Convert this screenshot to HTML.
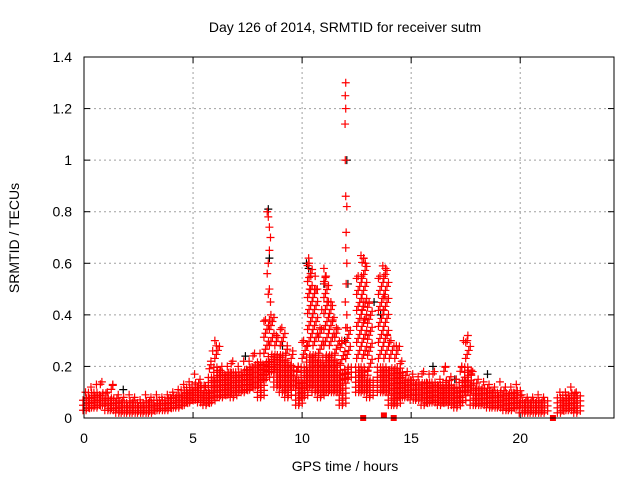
<!DOCTYPE html>
<html><head><meta charset="utf-8"><style>
body{margin:0;background:#fff}
svg{display:block;font-family:"Liberation Sans",sans-serif}
</style></head><body>
<svg id="chart" width="640" height="480" xmlns="http://www.w3.org/2000/svg">
<rect width="640" height="480" fill="#fff"/>
<g id="grid"></g>
<g id="ticks"></g>
<g id="black"></g>
<g id="red"></g>
<rect x="84" y="57" width="530" height="361" fill="none" stroke="#000" stroke-width="1"/>
<text x="345" y="32" font-size="14" text-anchor="middle">Day 126 of 2014, SRMTID for receiver sutm</text>
<text x="345" y="471" font-size="14" text-anchor="middle">GPS time / hours</text>
<text x="19" y="238" font-size="14" text-anchor="middle" transform="rotate(-90 19 238)">SRMTID / TECUs</text>
</svg>
<script>
const xTicks=[0,5,10,15,20];
const yTicks=[0,0.2,0.4,0.6,0.8,1,1.2,1.4];
const yTickLabels=["0","0.2","0.4","0.6","0.8","1","1.2","1.4"];
const bandTimes=[0,0.25,0.5,0.75,1,1.25,1.5,1.75,2,2.25,2.5,2.75,3,3.25,3.5,3.75,4,4.25,4.5,4.75,5,5.25,5.5,5.75,6,6.25,6.5,6.75,7,7.25,7.5,7.75,8,8.25,8.5,8.75,9,9.25,9.5,9.75,10,10.25,10.5,10.75,11,11.25,11.5,11.75,12,12.25,12.5,12.75,13,13.25,13.5,13.75,14,14.25,14.5,14.75,15,15.25,15.5,15.75,16,16.25,16.5,16.75,17,17.25,17.5,17.75,18,18.25,18.5,18.75,19,19.25,19.5,19.75,20,20.25,20.5,20.75,21,21.25,21.5,21.75,22,22.25,22.5];
const bandLow=[.03,.04,.04,.05,.03,.03,.02,.02,.02,.02,.02,.02,.02,.03,.03,.03,.04,.04,.05,.06,.07,.06,.05,.06,.08,.08,.09,.08,.10,.10,.11,.12,.08,.15,.18,.12,.10,.08,.12,.05,.08,.12,.10,.08,.10,.10,.10,.05,.15,null,.10,.10,.08,null,.10,.10,.05,.05,.08,.08,.07,.07,.05,.06,.06,.05,.06,.05,.04,.06,.10,.05,.05,.05,.04,.04,.04,.03,.03,.04,.02,.02,.02,.02,.02,null,null,.02,.03,.03,.02];
const bandHigh=[.10,.12,.13,.14,.10,.13,.09,.08,.09,.08,.07,.09,.08,.09,.08,.09,.10,.11,.13,.14,.17,.15,.12,.22,.28,.20,.20,.22,.20,.22,.22,.25,.25,.38,.40,.32,.35,.28,.26,.20,.30,.60,.50,.35,.55,.45,.35,.30,.35,null,.55,.62,.45,null,.55,.58,.30,.28,.22,.18,.17,.16,.18,.17,.18,.15,.20,.16,.15,.20,.30,.18,.15,.14,.13,.12,.14,.12,.12,.13,.09,.08,.08,.09,.08,null,null,.10,.10,.12,.10];
const bandDense=[.08,.10,.10,.10,.08,.08,.07,.06,.07,.06,.06,.07,.06,.07,.07,.08,.09,.09,.11,.12,.14,.13,.10,.16,.20,.18,.18,.18,.18,.19,.20,.21,.22,.22,.25,.25,.25,.22,.20,.15,.20,.25,.25,.22,.25,.25,.22,.18,.20,null,.20,.20,.15,null,.20,.20,.20,.20,.18,.15,.15,.14,.14,.14,.14,.13,.15,.13,.12,.15,.20,.14,.12,.12,.11,.10,.11,.10,.10,.11,.07,.07,.07,.07,.07,null,null,.08,.09,.10,.09];
const spikeTimes=[8.4,8.45,8.5,8.55,8.5,8.45,8.4,8.5,8.45,8.55,8.5,12.0,11.98,12.0,11.97,11.98,12.0,12.05,12.02,12.0,12.05,12.02,11.98,12.05,12.0,12.7,12.72,12.9,12.8,12.75,12.85,13.7,13.75,13.8,13.72,13.9,10.3,10.4,10.35,10.6,10.7,11.0,11.1,11.05,11.15,10.9,11.4,6.0,5.9,17.6,17.4];
const spikeValues=[.8,.78,.74,.7,.65,.6,.56,.5,.48,.45,.38,1.3,1.25,1.2,1.14,1.0,.86,.82,.72,.66,.6,.52,.45,.4,.35,.63,.55,.6,.45,.42,.38,.59,.55,.47,.42,.32,.62,.55,.5,.55,.5,.58,.55,.52,.45,.42,.38,.3,.26,.32,.3];
const blackTimes=[8.45,8.5,10.2,10.3,11.0,12.05,9.1,13.3,13.6,7.4,18.5,1.8,17.0,16.0,12.1,11.95];
const blackValues=[.81,.62,.6,.58,.52,1.0,.28,.45,.4,.24,.17,.11,.15,.2,.52,.3];
const squareTimes=[12.8,14.2,21.5,13.75];
const squareValues=[0,0,0,0.01];

const X0=84,X1=614,Y0=418,Y1=57,XMAX=24.3,YMAX=1.4;
const xs=v=>X0+v/XMAX*(X1-X0);
const ys=v=>Y0-v/YMAX*(Y0-Y1);
const NS="http://www.w3.org/2000/svg";
function mk(tag,attrs,parent){const e=document.createElementNS(NS,tag);for(const k in attrs)e.setAttribute(k,attrs[k]);parent.appendChild(e);return e;}
const grid=document.getElementById('grid'),ticks=document.getElementById('ticks');
xTicks.forEach(t=>{
  const x=xs(t);
  if(t>0){const g=mk('line',{x1:x,x2:x,y1:Y1,y2:Y0,stroke:'#a0a0a0','stroke-dasharray':'2,3'},grid);
  
  }
  mk('line',{x1:x,x2:x,y1:Y0,y2:Y0-6,stroke:'#000'},ticks);
  mk('line',{x1:x,x2:x,y1:Y1,y2:Y1+6,stroke:'#000'},ticks);
  const l=mk('text',{x:x,y:443,'font-size':14,'text-anchor':'middle'},ticks);l.textContent=t;
  
  
});
yTicks.forEach((t,i)=>{
  const y=ys(t);
  if(t>0&&t<1.4){const g=mk('line',{x1:X0,x2:X1,y1:y,y2:y,stroke:'#a0a0a0','stroke-dasharray':'2,3'},grid);
  
  }
  mk('line',{x1:X0,x2:X0+6,y1:y,y2:y,stroke:'#000'},ticks);
  mk('line',{x1:X1,x2:X1-6,y1:y,y2:y,stroke:'#000'},ticks);
  const l=mk('text',{x:72,y:y+5,'font-size':14,'text-anchor':'end'},ticks);l.textContent=yTickLabels[i];
  
  
});
function plusPx(x,y,color,parent){
  const p=mk('path',{d:`M${x-4} ${y}H${x+4}M${x} ${y-4}V${y+4}`,stroke:color,'stroke-width':1.2,fill:'none'},parent);
  
  
}
function plus(t,v,color,parent){plusPx(xs(t),ys(v),color,parent);}
const black=document.getElementById('black'),red=document.getElementById('red');
blackTimes.forEach((t,i)=>plus(t,blackValues[i],'#000',black));
bandTimes.forEach((t,i)=>{
  const lo=bandLow[i],hi=bandHigh[i],de=bandDense[i];
  if(lo===null)return;
  [0,0.07,0.14,0.21].forEach((dt,k)=>{
    const x=xs(t+dt);
    const yl=ys(lo),yd=ys(de),yh=ys(hi);
    for(let y=yl-(k%2)*2;y>=yd;y-=5)plusPx(x+(k%2?1:-1),y,'#f00',red);
    for(let y=yd-8-(k*4);y>=yh;y-=16)plusPx(x,y,'#f00',red);
    if(k===1)plusPx(x,yh,'#f00',red);
  });
});
spikeTimes.forEach((t,i)=>plus(t,spikeValues[i],'#f00',red));
squareTimes.forEach((t,i)=>{
  const s=mk('rect',{x:xs(t)-3,y:ys(squareValues[i])-3,width:6,height:6,fill:'#f00'},red);
  
  
});
</script>
</body></html>
